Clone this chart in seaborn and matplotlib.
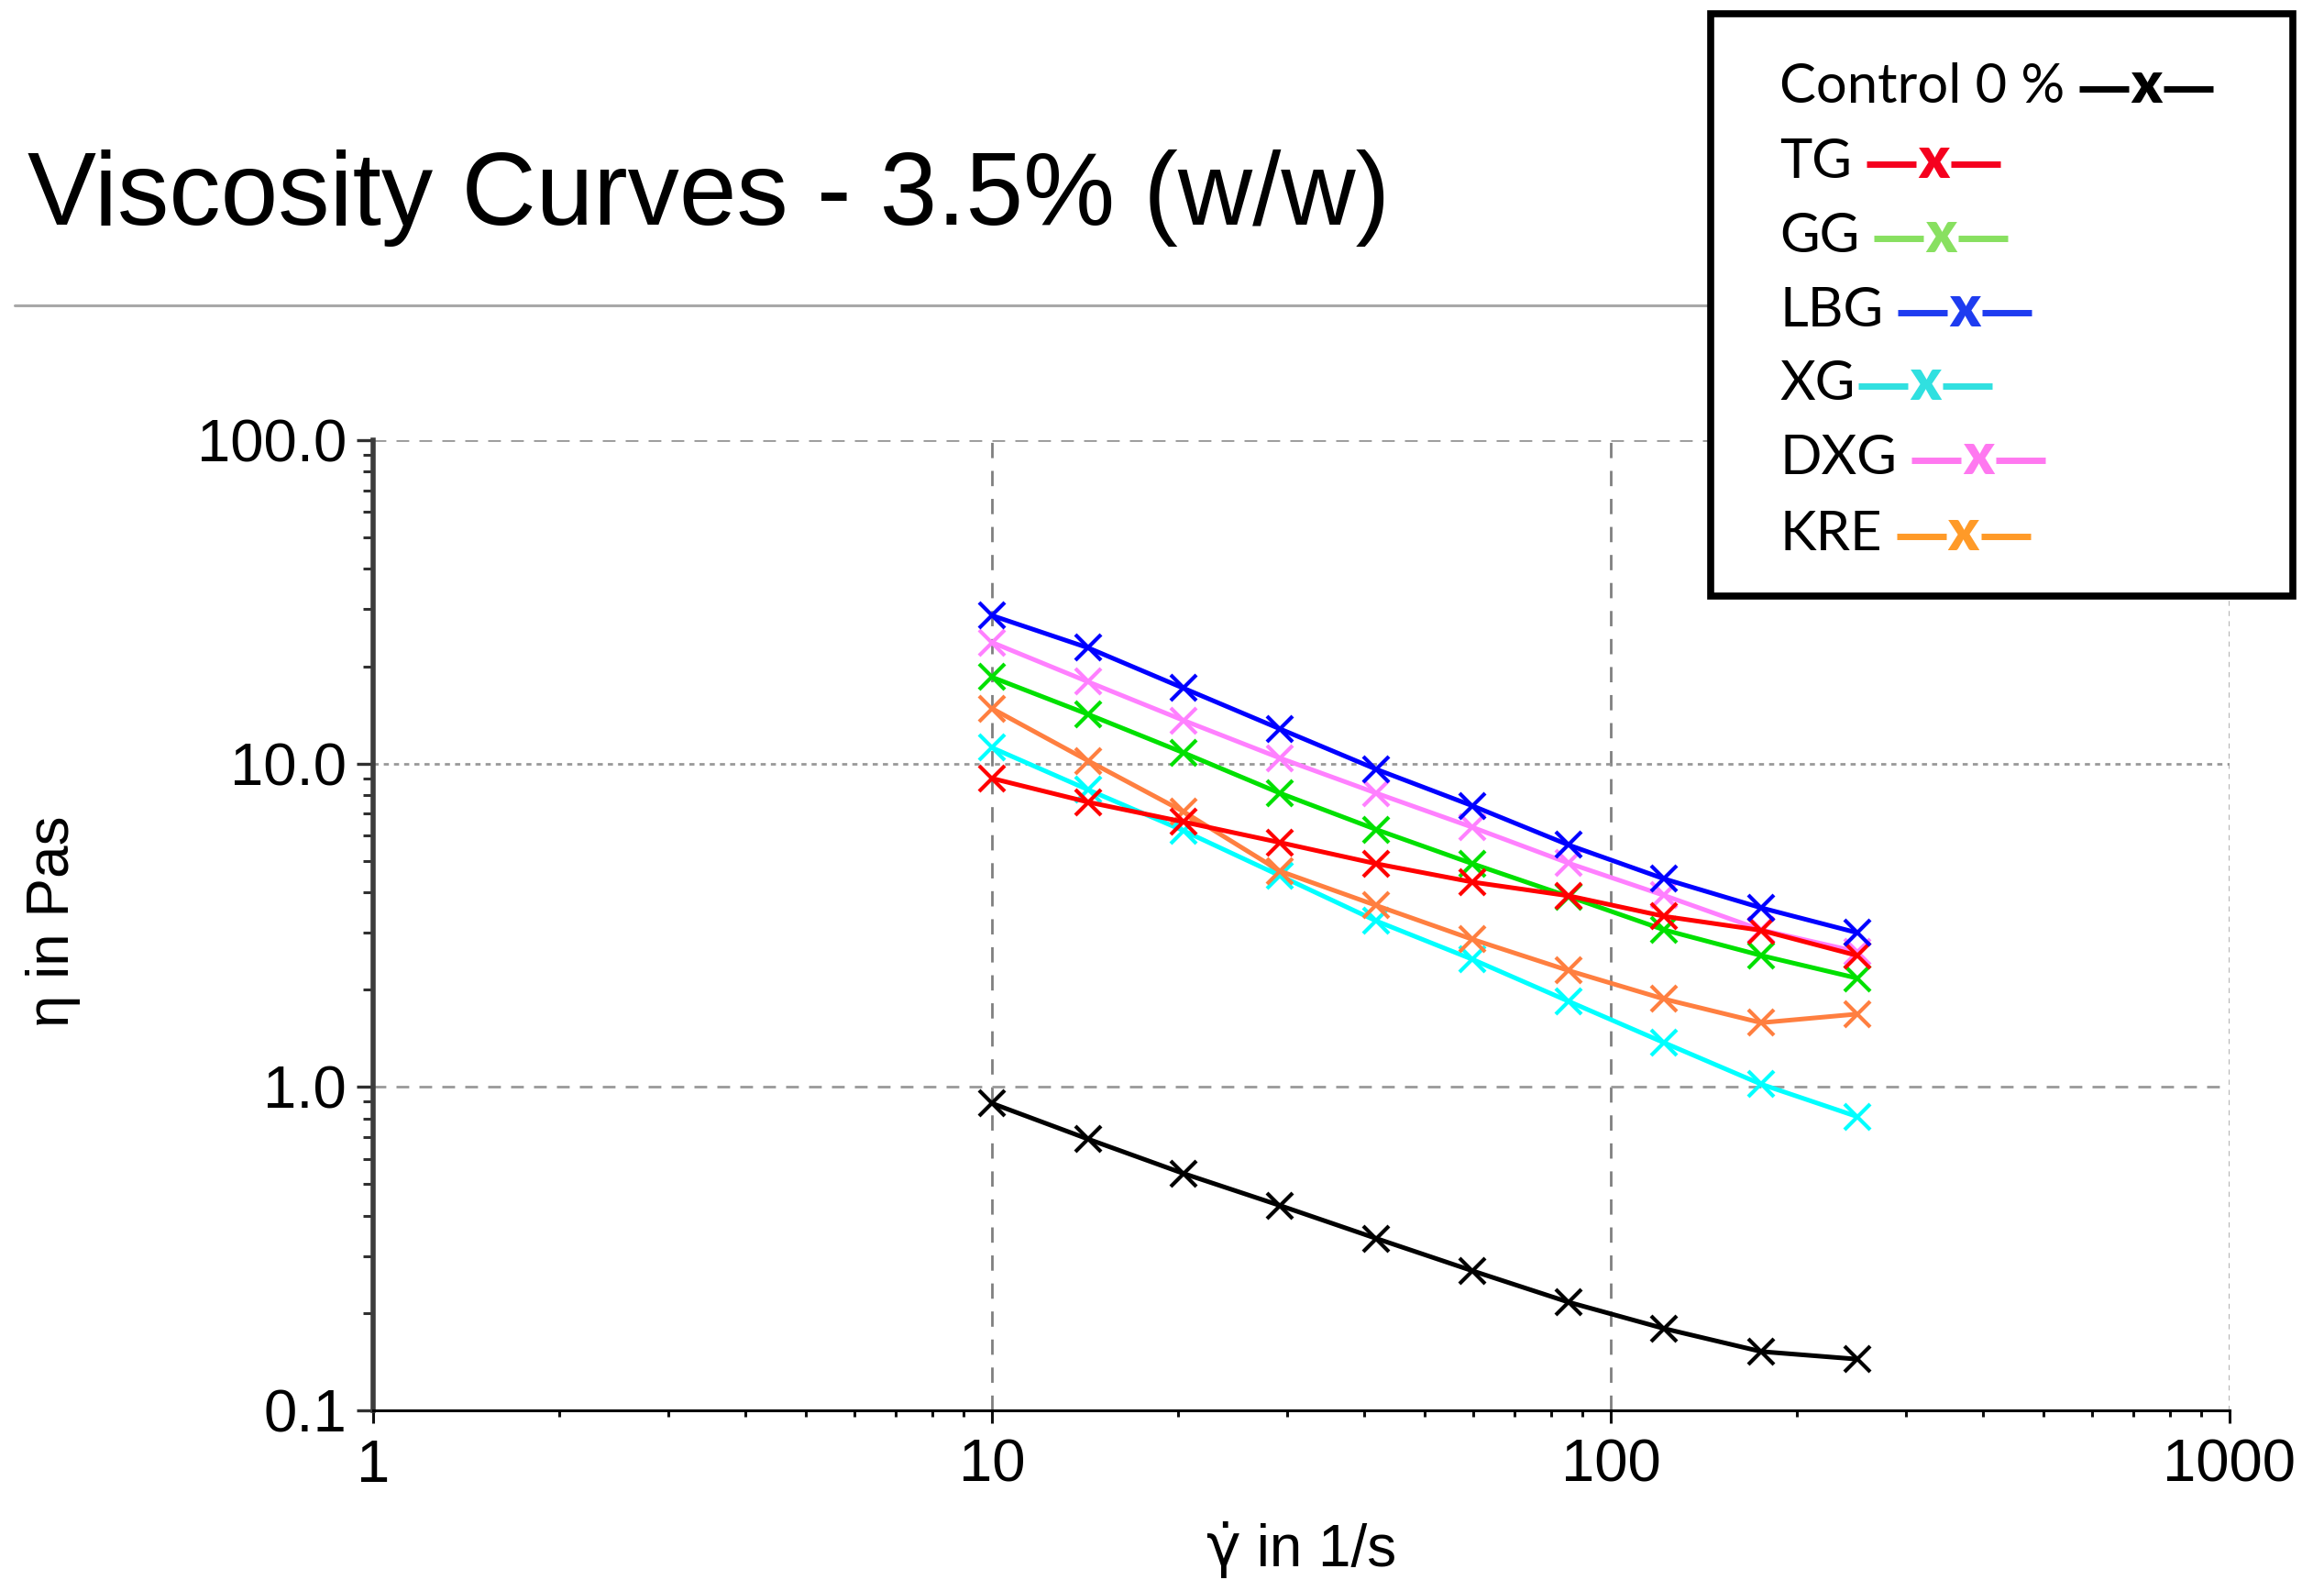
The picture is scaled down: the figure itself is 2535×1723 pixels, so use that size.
import numpy as np
import pandas as pd
import matplotlib
matplotlib.use("Agg")
import matplotlib.pyplot as plt
import seaborn as sns
from matplotlib.lines import Line2D
from matplotlib.patches import Rectangle
from matplotlib.ticker import FixedLocator, FixedFormatter, LogLocator, NullFormatter

# Shear rates (1/s)
shear_rate = [10, 14.3, 20.4, 29.2, 41.8, 59.8, 85.5, 122, 175, 250]

# Viscosity (Pa s) per sample
control = [0.89, 0.69, 0.54, 0.43, 0.34, 0.27, 0.216, 0.179, 0.152, 0.144]
tg = [9.0, 7.6, 6.6, 5.7, 4.9, 4.3, 3.9, 3.37, 3.05, 2.55]
gg = [18.5, 14.2, 10.8, 8.1, 6.25, 4.9, 3.88, 3.06, 2.55, 2.17]
lbg = [28.7, 22.8, 17.1, 12.8, 9.6, 7.4, 5.6, 4.4, 3.58, 3.0]
xg = [11.2, 8.3, 6.2, 4.5, 3.26, 2.48, 1.84, 1.37, 1.02, 0.81]
dxg = [23.7, 17.9, 13.6, 10.4, 8.1, 6.35, 4.92, 3.91, 3.06, 2.62]
kre = [14.8, 10.2, 7.1, 4.65, 3.64, 2.86, 2.29, 1.87, 1.58, 1.68]

sample_names = ["Control 0 %", "TG", "GG", "LBG", "XG", "DXG", "KRE"]
sample_values = [control, tg, gg, lbg, xg, dxg, kre]
line_colors = ["#000000", "#ff0000", "#00e000", "#0000ff", "#00ffff", "#ff80ff", "#ff7f40"]
legend_colors = ["#000000", "#f5001e", "#88e060", "#1e3cf0", "#30e0e0", "#ff78f0", "#ff9a28"]

y_ticks = [0.1, 1.0, 10.0, 100.0]
y_tick_labels = ["0.1", "1.0", "10.0", "100.0"]
x_ticks = [1, 10, 100, 1000]
x_tick_labels = ["1", "10", "100", "1000"]

title = "Viscosity Curves - 3.5% (w/w)"
x_symbol = "\u03b3\u0307"
x_unit = " in 1/s"
y_title = "\u03b7 in Pas"

rows = []
for name, vals in zip(sample_names, sample_values):
    for x, y in zip(shear_rate, vals):
        rows.append({"shear": x, "eta": y, "sample": name})
df = pd.DataFrame(rows)

sns.set_style("white")
plt.rcParams["font.family"] = ["Liberation Sans", "DejaVu Sans"]

W, H = 2535, 1723
fig = plt.figure(figsize=(W / 100, H / 100), dpi=100)
fig.patch.set_facecolor("white")
renderer = fig.canvas.get_renderer()

L, R, T, B = 407, 2432, 480, 1538
ax = fig.add_axes([L / W, 1 - B / H, (R - L) / W, (B - T) / H])

draw_order = ["Control 0 %", "XG", "KRE", "GG", "DXG", "TG", "LBG"]
palette = dict(zip(sample_names, line_colors))
sns.lineplot(data=df, x="shear", y="eta", hue="sample", hue_order=draw_order,
             palette=palette, marker="x", markersize=20, linewidth=3.6,
             legend=False, ax=ax, sort=True, estimator=None)
for ln in ax.lines:
    ln.set_markeredgecolor(ln.get_color())
    ln.set_markeredgewidth(3.0)

ax.set_xscale("log")
ax.set_yscale("log")
ax.set_xlim(1, 1000)
ax.set_ylim(0.1, 100)

ax.xaxis.set_major_locator(FixedLocator(x_ticks))
ax.xaxis.set_major_formatter(FixedFormatter(x_tick_labels))
ax.yaxis.set_major_locator(FixedLocator(y_ticks))
ax.yaxis.set_major_formatter(FixedFormatter(y_tick_labels))
ax.xaxis.set_minor_locator(LogLocator(base=10, subs=np.arange(2, 10)))
ax.yaxis.set_minor_locator(LogLocator(base=10, subs=np.arange(2, 10)))
ax.xaxis.set_minor_formatter(NullFormatter())
ax.yaxis.set_minor_formatter(NullFormatter())

ax.tick_params(axis="y", which="major", direction="out", length=13, width=2.4,
               color="#303030", labelsize=47, labelcolor="black", pad=8, left=True)
ax.tick_params(axis="y", which="minor", direction="out", length=8, width=2.2,
               color="#303030", left=True)
ax.tick_params(axis="x", which="major", direction="out", length=10, width=2.2,
               color="#101010", labelsize=47, labelcolor="black", pad=12, bottom=True)
ax.tick_params(axis="x", which="minor", direction="out", length=5, width=2.2,
               color="#101010", bottom=True)

# Grid: dashed verticals, dotted/dashed horizontals
ax.grid(False)
for xv in x_ticks[1:]:
    ls = (0, (6, 5)) if xv < 1000 else (0, (2, 2))
    ax.axvline(xv, color="#808080" if xv < 1000 else "#a8a8a8", lw=2.0, ls=ls, zorder=0)
for yv in y_ticks[1:]:
    ls = (0, (2, 2)) if yv == 10.0 else (0, (5, 4))
    ax.axhline(yv, color="#999999", lw=2.0, ls=ls, zorder=0)

for s in ["top", "right"]:
    ax.spines[s].set_visible(False)
ax.spines["left"].set_color("#3c3c3c")
ax.spines["left"].set_linewidth(4.0)
ax.spines["bottom"].set_color("#000000")
ax.spines["bottom"].set_linewidth(2.2)

# Axis titles
ax.set_xlabel("")
ax.set_ylabel("")
sym = fig.text(0, 1 - 1708 / H, x_symbol, fontsize=46, family=["DejaVu Sans"],
               ha="left", va="baseline", color="black")
unit = fig.text(0, 1 - 1708 / H, x_unit, fontsize=46, family=["Liberation Sans"],
                ha="left", va="baseline", color="black")
w_sym = sym.get_window_extent(renderer=renderer).width
w_unit = unit.get_window_extent(renderer=renderer).width
x_start = (L + R) / 2 - (w_sym + w_unit) / 2
sym.set_x(x_start / W)
unit.set_x((x_start + w_sym) / W)

fig.text(58 / W, 1 - 1005 / H, y_title, fontsize=46, rotation=90,
         ha="center", va="center", color="black")

# Title and rule beneath it
fig.text(30 / W, 1 - 216 / H, title, fontsize=81, ha="left", va="center",
         color="black")
fig.add_artist(Line2D([16 / W, 2000 / W], [1 - 333 / H, 1 - 333 / H],
                      color="#a8a8a8", lw=2.2, zorder=1))

# Boxed legend: label followed by a line-x-line sample
bx0, by0, bx1, by1 = 1866, 15, 2501, 650
fig.add_artist(Rectangle((bx0 / W, 1 - by1 / H), (bx1 - bx0) / W, (by1 - by0) / H,
                         transform=fig.transFigure, facecolor="white",
                         edgecolor="black", lw=5.5, zorder=10))
row_y = [96, 178, 259, 340, 420, 501, 584]
leg_fam = ["Lato", "DejaVu Sans"]
for name, col, py in zip(sample_names, legend_colors, row_y):
    t = fig.text(1941 / W, 1 - (py + 16) / H, name, fontsize=43, family=leg_fam,
                 ha="left", va="baseline", color="black", zorder=11)
    ext = t.get_window_extent(renderer=renderer)
    gap = 4 if name == "XG" else 16
    x0 = ext.x1 + gap
    seg = 54
    yc = H - py - 1
    fig.add_artist(Line2D([x0 / W, (x0 + seg) / W], [yc / H, yc / H], color=col,
                          lw=5.0, zorder=11, solid_capstyle="butt"))
    fig.text((x0 + seg + 19) / W, 1 - (py + 16) / H, "x", fontsize=45, family=leg_fam,
             weight="heavy", color=col, ha="center", va="baseline", zorder=11)
    x2 = x0 + seg + 38
    fig.add_artist(Line2D([x2 / W, (x2 + seg) / W], [yc / H, yc / H], color=col,
                          lw=5.0, zorder=11, solid_capstyle="butt"))

fig.savefig("out.png", dpi=100, facecolor="white")
